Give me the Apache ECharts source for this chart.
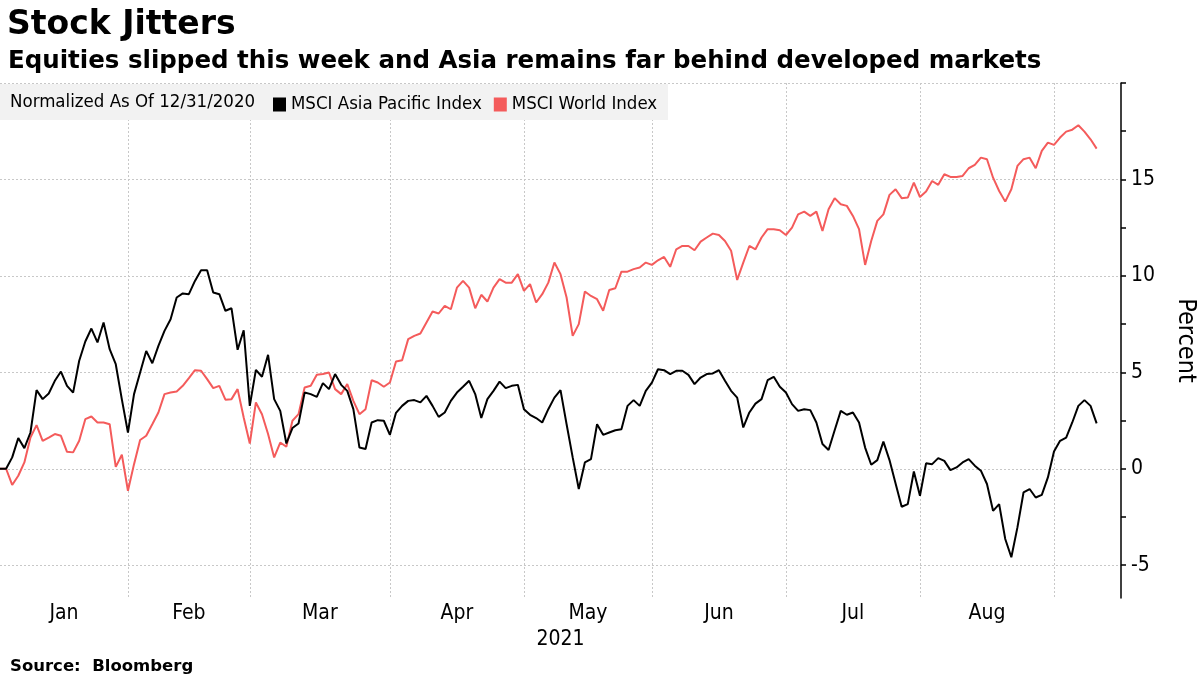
<!DOCTYPE html>
<html>
<head>
<meta charset="utf-8">
<script src="https://cdn.jsdelivr.net/npm/echarts@6/dist/echarts.min.js"></script>
<style>
html,body{margin:0;padding:0;background:#fff;}
#chart{width:1200px;height:675px;}
</style>
</head>
<body>
<div id="chart"></div>
<script>
// Series values (percent, normalized as of 12/31/2020), one per weekday from 2020-12-31
const asiaPacific = [
  0, 0, 0.59, 1.59, 1.07, 1.88, 4.08, 3.61, 3.90, 4.56,
  5.04, 4.30, 3.95, 5.60, 6.60, 7.27, 6.55, 7.58, 6.20, 5.42,
  3.60, 1.88, 3.87, 4.99, 6.11, 5.47, 6.37, 7.15, 7.75, 8.88,
  9.09, 9.05, 9.74, 10.29, 10.29, 9.14, 9.05, 8.19, 8.32, 6.17,
  7.18, 3.26, 5.13, 4.77, 5.91, 3.61, 3.00, 1.31, 2.11, 2.35,
  3.95, 3.87, 3.73, 4.44, 4.13, 4.91, 4.35, 4.04, 3.09, 1.10,
  1.02, 2.40, 2.52, 2.49, 1.76, 2.90, 3.26, 3.52, 3.56, 3.44,
  3.78, 3.26, 2.69, 2.92, 3.52, 3.95, 4.25, 4.56, 3.87, 2.63,
  3.61, 4.04, 4.52, 4.18, 4.30, 4.35, 3.09, 2.80, 2.63, 2.40,
  3.09, 3.69, 4.08, 2.31, 0.59, -1.05, 0.33, 0.50, 2.31, 1.76,
  1.88, 2.00, 2.05, 3.26, 3.56, 3.26, 4.04, 4.47, 5.16, 5.11,
  4.91, 5.08, 5.08, 4.87, 4.39, 4.73, 4.91, 4.94, 5.11, 4.56,
  4.04, 3.69, 2.14, 2.92, 3.38, 3.61, 4.59, 4.77, 4.25, 3.95,
  3.35, 3.00, 3.09, 3.04, 2.40, 1.28, 0.97, 2.00, 3.00, 2.80,
  2.92, 2.40, 1.10, 0.21, 0.45, 1.41, 0.45, -0.76, -1.97, -1.83,
  -0.14, -1.40, 0.28, 0.24, 0.55, 0.41, -0.07, 0.07, 0.33, 0.50,
  0.16, -0.10, -0.79, -2.18, -1.83, -3.64, -4.59, -3.04, -1.23, -1.05,
  -1.49, -1.35, -0.45, 0.90, 1.45, 1.62, 2.40, 3.26, 3.56, 3.26, 2.35
];
const world = [
  0, 0, -0.84, -0.36, 0.33, 1.62, 2.26, 1.45, 1.62, 1.80,
  1.71, 0.88, 0.85, 1.45, 2.57, 2.71, 2.40, 2.40, 2.31, 0.10,
  0.73, -1.14, 0.24, 1.49, 1.71, 2.31, 2.92, 3.87, 3.95, 4.01,
  4.30, 4.70, 5.11, 5.08, 4.65, 4.18, 4.30, 3.58, 3.61, 4.13,
  2.66, 1.31, 3.44, 2.83, 1.80, 0.59, 1.36, 1.14, 2.49, 2.83,
  4.21, 4.30, 4.87, 4.91, 4.99, 4.13, 3.87, 4.39, 3.52, 2.83,
  3.09, 4.59, 4.47, 4.25, 4.47, 5.56, 5.63, 6.72, 6.89, 7.01,
  7.58, 8.15, 8.05, 8.45, 8.27, 9.39, 9.74, 9.39, 8.32, 9.02,
  8.67, 9.39, 9.83, 9.65, 9.65, 10.09, 9.22, 9.57, 8.62, 9.05,
  9.65, 10.69, 10.09, 8.88, 6.89, 7.50, 9.19, 8.96, 8.79, 8.19,
  9.27, 9.36, 10.22, 10.22, 10.35, 10.43, 10.69, 10.57, 10.81, 10.98,
  10.47, 11.38, 11.55, 11.55, 11.33, 11.78, 11.99, 12.19, 12.12, 11.81,
  11.30, 9.79, 10.69, 11.55, 11.38, 11.99, 12.42, 12.42, 12.37, 12.12,
  12.50, 13.19, 13.33, 13.11, 13.33, 12.33, 13.45, 14.03, 13.71, 13.63,
  13.11, 12.42, 10.57, 11.81, 12.85, 13.19, 14.20, 14.49, 14.03, 14.06,
  14.84, 14.09, 14.37, 14.92, 14.72, 15.27, 15.13, 15.13, 15.18, 15.58,
  15.75, 16.13, 16.05, 15.09, 14.40, 13.85, 14.49, 15.70, 16.05, 16.13,
  15.58, 16.48, 16.91, 16.79, 17.17, 17.48, 17.58, 17.81, 17.48, 17.08, 16.60
];
const monthNames = ['Jan', 'Feb', 'Mar', 'Apr', 'May', 'Jun', 'Jul', 'Aug'];
const yLabelValues = [-5, 0, 5, 10, 15];
const yTickValues = [-5, -2.5, 0, 2.5, 5, 7.5, 10, 12.5, 15, 17.5, 20];
const seriesNames = ['MSCI Asia Pacific Index', 'MSCI World Index'];

// Categories: weekdays from 2020-12-31 to 2021-09-16 (Jan 1 holiday excluded)
const dates = [];
{
  let d = new Date(Date.UTC(2020, 11, 31));
  const end = new Date(Date.UTC(2021, 8, 16));
  while (d <= end) {
    const wd = d.getUTCDay();
    const iso = d.toISOString().slice(0, 10);
    if (wd !== 0 && wd !== 6 && iso !== '2021-01-01') dates.push(iso);
    d = new Date(d.getTime() + 86400000);
  }
}
// month start indices (Feb..Sep) and label positions (middle of each month)
const monthStarts = [];
for (let i = 1; i < dates.length; i++) {
  const m = dates[i].slice(5, 7), pm = dates[i - 1].slice(5, 7);
  if (m !== pm && m !== '01') monthStarts.push(i);
}
const bounds = [0].concat(monthStarts);
const monthLabelPos = monthNames.map((n, k) => (bounds[k] + bounds[k + 1]) / 2);
const lastIdx = dates.length - 1;

const chart = echarts.init(document.getElementById('chart'));
const FONT = '"DejaVu Sans Condensed", "DejaVu Sans", sans-serif';
const BOLD = '"DejaVu Sans", sans-serif';
const gridLine = { color: '#c8c8c8', type: [2, 2], width: 1 };
chart.setOption({
  animation: false,
  textStyle: { fontFamily: FONT },
  title: [
    { text: 'Stock Jitters', left: 2, top: 4,
      textStyle: { fontFamily: BOLD, fontSize: 33, fontWeight: 'bold', color: '#000' } },
    { text: 'Equities slipped this week and Asia remains far behind developed markets', left: 3, top: 44,
      textStyle: { fontFamily: BOLD, fontSize: 24.5, fontWeight: 'bold', color: '#000' } },
    { text: 'Source:  Bloomberg', left: 5, top: 653,
      textStyle: { fontFamily: BOLD, fontSize: 16.5, fontWeight: 'bold', color: '#000' } }
  ],
  graphic: [
    { type: 'rect', shape: { x: 0, y: 84, width: 668, height: 36 }, style: { fill: '#f2f2f2' }, z: 1 },
    { type: 'text', x: 10, y: 102, z: 2,
      style: { text: 'Normalized As Of 12/31/2020', fill: '#000', font: '18.5px ' + FONT, textVerticalAlign: 'middle' } }
  ],
  legend: {
    left: 273, top: 95, padding: 0, icon: 'rect', itemWidth: 13, itemHeight: 14, itemGap: 12,
    textStyle: { fontFamily: FONT, fontSize: 18.5, color: '#000' },
    data: seriesNames
  },
  grid: { left: 0, right: 79, top: 83, bottom: 77, containLabel: false, outerBoundsMode: 'none' },
  xAxis: [
    {
      type: 'category', data: dates, boundaryGap: false,
      axisLine: { show: false }, axisTick: { show: false }, axisLabel: { show: false },
      splitLine: { show: true, interval: (idx) => monthStarts.indexOf(idx) >= 0, lineStyle: gridLine }
    },
    {
      type: 'value', min: 0, max: lastIdx, position: 'bottom',
      axisLine: { show: false }, axisTick: { show: false }, splitLine: { show: false },
      axisLabel: { customValues: monthLabelPos, margin: 5, fontSize: 21, color: '#000', fontFamily: FONT,
        formatter: (v) => { const k = monthLabelPos.indexOf(v); return k >= 0 ? monthNames[k] : ''; } },
      name: '2021', nameLocation: 'middle', nameGap: 28,
      nameTextStyle: { fontSize: 21, color: '#000', fontFamily: FONT }
    }
  ],
  yAxis: [
    {
      type: 'value', position: 'right', min: -6.7, max: 20,
      axisLine: { show: true, onZero: false, lineStyle: { color: '#000', width: 1.5 } },
      axisTick: { show: true, length: 5, customValues: yTickValues, lineStyle: { color: '#000', width: 1.5 } },
      axisLabel: { customValues: yLabelValues, fontSize: 21, color: '#000', margin: 10, fontFamily: FONT },
      splitLine: { show: false },
      name: 'Percent', nameLocation: 'middle', nameRotate: -90, nameGap: 52,
      nameTextStyle: { fontSize: 25, color: '#000', fontFamily: FONT }
    },
    {
      type: 'value', position: 'right', min: -6.7, max: 20, splitNumber: 5, offset: 0,
      axisLine: { show: false, onZero: false },
      axisTick: { show: false },
      axisLabel: { show: false },
      splitLine: { show: true, showMinLine: false, lineStyle: gridLine }
    }
  ],
  series: [
    { name: seriesNames[0], type: 'line', data: asiaPacific, symbol: 'none', z: 3,
      itemStyle: { color: '#000' }, lineStyle: { color: '#000', width: 2 } },
    { name: seriesNames[1], type: 'line', data: world, symbol: 'none', z: 2,
      itemStyle: { color: '#f45b5b' }, lineStyle: { color: '#f45b5b', width: 2 } }
  ]
});
</script>
</body>
</html>
